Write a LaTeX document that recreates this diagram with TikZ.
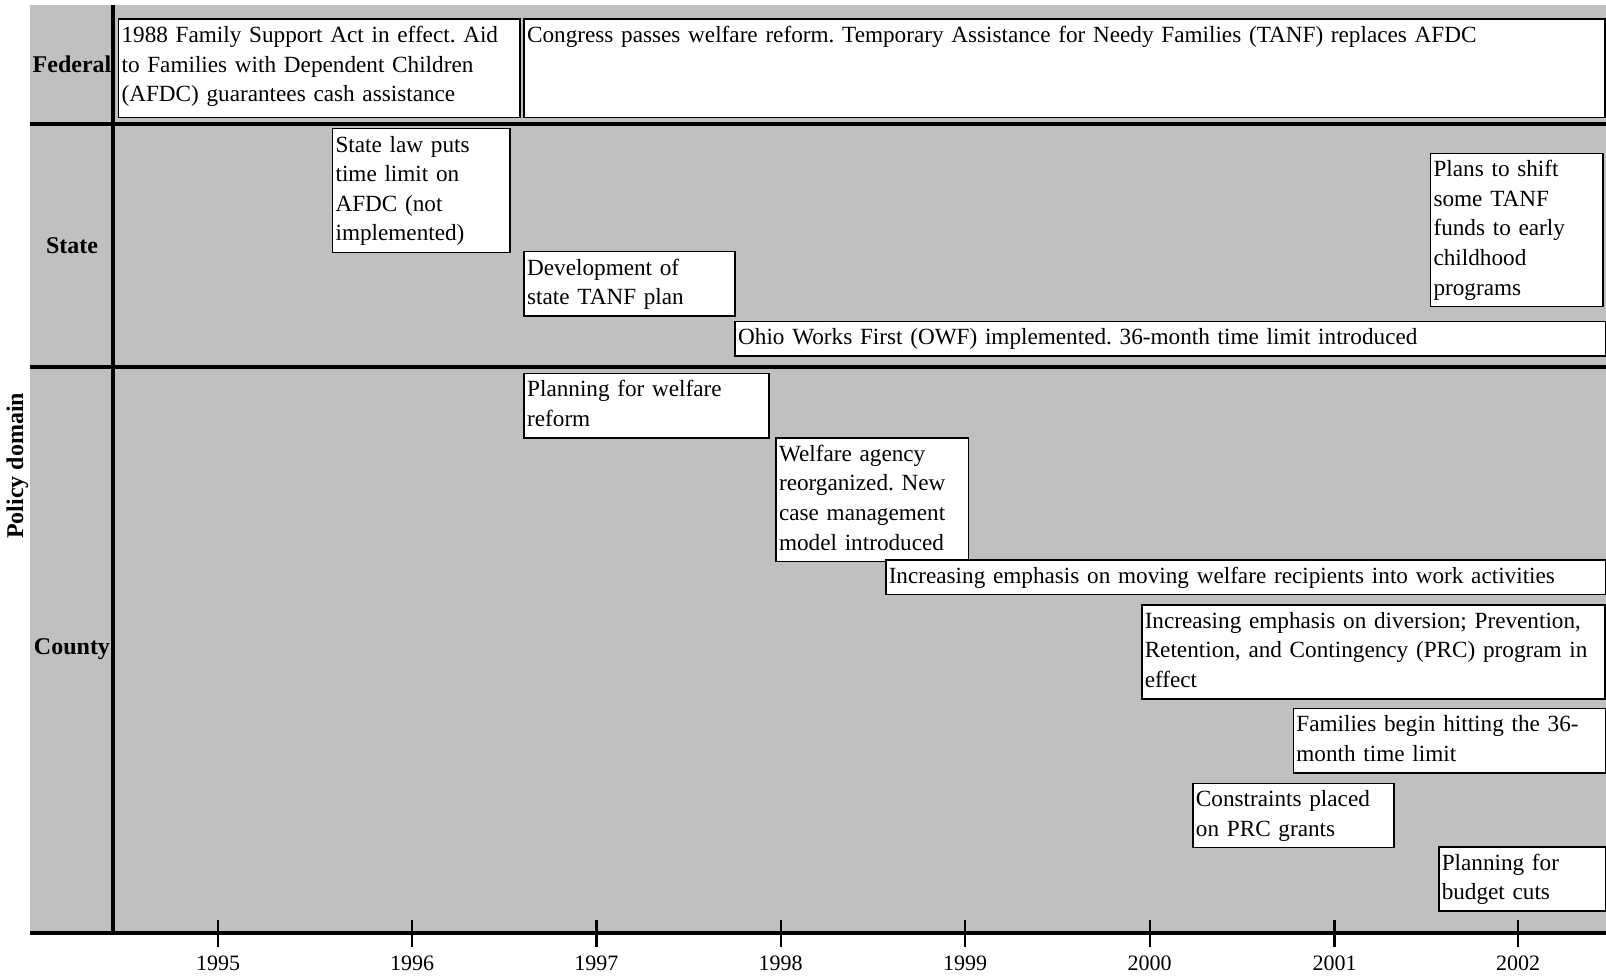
\documentclass[tikz,border=0pt]{standalone}
\usepackage{fontspec}
\setmainfont{Liberation Serif}
\usepackage{tikz}
\frenchspacing
\pgfdeclarelayer{background}
\pgfsetlayers{background,main}
\definecolor{panel}{RGB}{192,192,192}
\newcommand{\evfont}{\fontsize{11.6}{14.8}\selectfont}
\tikzstyle{event}=[draw, fill=white, line width=0.75pt, anchor=north west,
    align=left, inner xsep=1.5pt, inner ysep=1.3pt, font=\evfont,
    execute at begin node=\strut, execute at end node=\strut]
\tikzstyle{tierlabel}=[font=\fontsize{12}{14}\selectfont\bfseries]
\tikzstyle{yearlabel}=[font=\fontsize{11}{13}\selectfont]
\tikzstyle{axisline}=[line width=1.6pt]

\begin{document}
\begin{tikzpicture}[x=0.5pt, y=-0.5pt]
  \useasboundingbox (0,0) rectangle (1606,977);
  \draw[axisline] (113,5) -- (113,933);
  \draw[axisline] (30,124) -- (1606,124);
  \draw[axisline] (30,367) -- (1606,367);
  \draw[axisline] (30,933) -- (1606,933);
  \foreach \yr/\x in {1995/218, 1996/412, 1997/596.4, 1998/780.6,
                      1999/965, 2000/1149.6, 2001/1334.5, 2002/1518}{
    \draw[line width=1.1pt] (\x,920) -- (\x,947);
    \node[yearlabel] (y\yr) at (\x,963) {\yr};
  }

  \node[tierlabel] (fed) at (72,64.5) {Federal};
  \node[tierlabel] (st) at (72,246) {State};
  \node[tierlabel] (co) at (72,649) {County};
  \node[tierlabel, rotate=90] (pd) at (17.5,466) {Policy domain};

  % federal
  \node[event, text width=197.7pt, text depth=36.2pt] (afdc) at (117.8,18.4)
    {1988 Family Support Act in effect. Aid\\to Families with Dependent Children\\(AFDC) guarantees cash assistance};
  \node[event, text width=537.3pt, text depth=36.2pt] (tanf) at (523.4,18.4)
    {Congress passes welfare reform. Temporary Assistance for Needy Families (TANF) replaces AFDC};

  % state
  \node[event, text width=85.6pt] (law) at (331.8,128)
    {State law puts\\time limit on\\AFDC (not\\implemented)};
  \node[event, text width=102.5pt] (plan) at (523.4,251)
    {Development of\\state TANF plan};
  \node[event, text width=83.1pt] (shift) at (1429.8,152.6)
    {Plans to shift\\some TANF\\funds to early\\childhood\\programs};
  \node[event, text width=432.3pt] (owf) at (734.4,320.6)
    {Ohio Works First (OWF) implemented. 36-month time limit introduced};

  % county
  \node[event, text width=119.4pt] (reform) at (523.4,372.8)
    {Planning for welfare\\reform};
  \node[event, text width=93.3pt] (agency) at (775.3,437.3)
    {Welfare agency\\reorganized. New\\case management\\model introduced};
  \node[event, text width=357pt] (work) at (885,559.2)
    {Increasing emphasis on moving welfare recipients into work activities};
  \node[event, text width=228.5pt] (prc) at (1141,604.3)
    {Increasing emphasis on diversion; Prevention,\\Retention, and Contingency (PRC) program in\\effect};
  \node[event, text width=153.2pt] (limit) at (1292.6,707.7)
    {Families begin hitting the 36-\\month time limit};
  \node[event, text width=97.4pt] (grants) at (1192.2,782.5)
    {Constraints placed\\on PRC grants};
  \node[event, text width=80.5pt] (cuts) at (1438,846)
    {Planning for\\budget cuts};

  \begin{pgfonlayer}{background}
    \fill[panel] (30,5) rectangle (1606,933);
  \end{pgfonlayer}
\end{tikzpicture}
\end{document}
